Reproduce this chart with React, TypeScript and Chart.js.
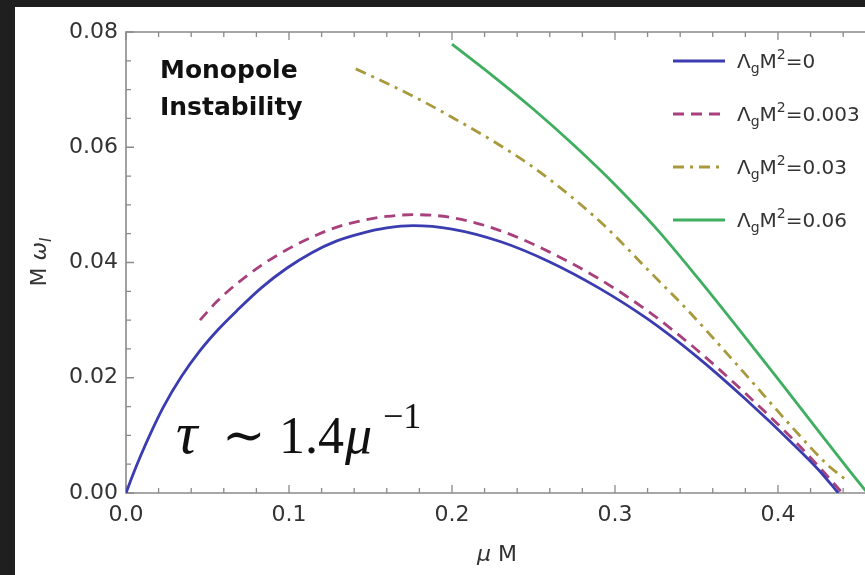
import { useEffect, useRef } from "react";
import { Chart, registerables } from "chart.js";

Chart.register(...registerables);

// ---------- data ----------
const LAMBDA_VALUES = ["0", "0.003", "0.03", "0.06"];
const X_TICKS = [0, 0.1, 0.2, 0.3, 0.4];
const Y_TICKS = [0, 0.02, 0.04, 0.06, 0.08];

const BLUE_X = [0, 0.004, 0.0086, 0.015, 0.0229, 0.034, 0.0454, 0.057, 0.0679, 0.083, 0.0986, 0.114, 0.129, 0.145, 0.16, 0.176, 0.2, 0.23, 0.26, 0.29, 0.32, 0.35, 0.38, 0.41, 0.425, 0.437];
const BLUE_Y = [0, 0.003, 0.0062, 0.0103, 0.0149, 0.0202, 0.0247, 0.0285, 0.0316, 0.0356, 0.039, 0.0417, 0.0437, 0.0451, 0.046, 0.0464, 0.0458, 0.0436, 0.0401, 0.0356, 0.0302, 0.0237, 0.0163, 0.0083, 0.004, 0];

const MAGENTA_X = [0.0454, 0.056, 0.0679, 0.083, 0.0986, 0.114, 0.129, 0.145, 0.16, 0.176, 0.2, 0.23, 0.26, 0.29, 0.32, 0.35, 0.38, 0.41, 0.425, 0.4385];
const MAGENTA_Y = [0.03, 0.0333, 0.0363, 0.0395, 0.0422, 0.0444, 0.0461, 0.0473, 0.048, 0.0483, 0.0478, 0.0455, 0.0418, 0.0372, 0.0316, 0.0249, 0.0173, 0.0091, 0.0046, 0.0003];

const OLIVE_X = [0.141, 0.16, 0.18, 0.2, 0.225, 0.25, 0.275, 0.295, 0.32, 0.345, 0.37, 0.39, 0.41, 0.43, 0.442];
const OLIVE_Y = [0.0736, 0.0711, 0.0683, 0.0652, 0.0611, 0.0565, 0.051, 0.046, 0.0388, 0.0316, 0.0238, 0.0174, 0.011, 0.005, 0.0022];

const GREEN_X = [0.2, 0.225, 0.25, 0.275, 0.3, 0.325, 0.35, 0.375, 0.4, 0.425, 0.45, 0.455];
const GREEN_Y = [0.0779, 0.0724, 0.0666, 0.0603, 0.0535, 0.046, 0.0376, 0.0288, 0.0198, 0.0107, 0.0017, 0];

const COLORS = ["#3a3cb0", "#a8407c", "#a89a3c", "#3fae5f"];
const DASHES: number[][] = [[], [11, 7], [11, 6, 3, 6], []];

const pts = (xs: number[], ys: number[]) => xs.map((x, i) => ({ x, y: ys[i] }));

const SANS = "'DejaVu Sans', 'Liberation Sans', sans-serif";
const SERIF = "'Liberation Serif', 'DejaVu Serif', serif";

type Run = { t: string; f: string; dy?: number };
function runsWidth(ctx: CanvasRenderingContext2D, runs: Run[]) {
  let w = 0;
  for (const r of runs) {
    ctx.font = r.f;
    w += ctx.measureText(r.t).width;
  }
  return w;
}
function drawRuns(ctx: CanvasRenderingContext2D, x: number, y: number, runs: Run[]) {
  let cx = x;
  for (const r of runs) {
    ctx.font = r.f;
    ctx.fillText(r.t, cx, y + (r.dy || 0));
    cx += ctx.measureText(r.t).width;
  }
  return cx;
}

const framePlugin = {
  id: "frame",
  beforeDatasetsDraw(chart: any) {
    const { ctx, chartArea: a, scales } = chart;
    const x = scales.x, y = scales.y;
    ctx.save();
    ctx.strokeStyle = "#8a8a8a";
    ctx.lineWidth = 1.6;
    ctx.beginPath();
    ctx.moveTo(a.right, a.top);
    ctx.lineTo(a.left, a.top);
    ctx.lineTo(a.left, a.bottom);
    ctx.lineTo(a.right, a.bottom);
    ctx.stroke();
    ctx.lineWidth = 1.3;
    ctx.beginPath();
    for (let i = 0; i <= 23; i++) {
      const v = i * 0.02;
      if (v > x.max) break;
      const px = x.getPixelForValue(v);
      const len = i % 5 === 0 ? 8 : 5;
      ctx.moveTo(px, a.bottom);
      ctx.lineTo(px, a.bottom - len);
      ctx.moveTo(px, a.top);
      ctx.lineTo(px, a.top + len);
    }
    for (let i = 0; i <= 16; i++) {
      const py = y.getPixelForValue(i * 0.005);
      const len = i % 4 === 0 ? 8 : 5;
      ctx.moveTo(a.left, py);
      ctx.lineTo(a.left + len, py);
    }
    ctx.stroke();
    ctx.restore();
  },
  afterDraw(chart: any) {
    const { ctx } = chart;
    ctx.save();
    ctx.textBaseline = "alphabetic";
    ctx.textAlign = "left";

    // annotation: Monopole Instability
    ctx.fillStyle = "#111";
    ctx.font = `bold 25px ${SANS}`;
    ctx.fillText("Monopole", 145, 71);
    ctx.fillText("Instability", 145, 108);

    // tau formula
    ctx.fillStyle = "#111";
    ctx.font = `italic 60px ${SERIF}`;
    ctx.fillText("τ", 161, 446);
    ctx.font = `52px ${SERIF}`;
    ctx.fillText("∼", 207, 446);
    ctx.fillText("1.4", 264, 446);
    ctx.font = `italic 54px ${SERIF}`;
    ctx.fillText("μ", 330, 446);
    ctx.font = `36px ${SERIF}`;
    ctx.fillText("−1", 368, 421);

    // axis titles
    ctx.fillStyle = "#333";
    const xt: Run[] = [
      { t: "μ", f: `italic 22px ${SANS}` },
      { t: " M", f: `22px ${SANS}` },
    ];
    const xw = runsWidth(ctx, xt);
    drawRuns(ctx, 482 - xw / 2, 554, xt);

    const yt: Run[] = [
      { t: "M ", f: `22px ${SANS}` },
      { t: "ω", f: `italic 22px ${SANS}` },
      { t: "I", f: `italic 15px ${SANS}`, dy: 5 },
    ];
    const yw = runsWidth(ctx, yt);
    ctx.save();
    ctx.translate(31, 255);
    ctx.rotate(-Math.PI / 2);
    drawRuns(ctx, -yw / 2, 0, yt);
    ctx.restore();

    // legend
    chart.data.datasets.forEach((ds: any, i: number) => {
      const rowY = 54 + i * 53;
      ctx.save();
      ctx.strokeStyle = ds.borderColor;
      ctx.lineWidth = ds.borderWidth;
      ctx.setLineDash(ds.borderDash || []);
      ctx.beginPath();
      ctx.moveTo(658, rowY);
      ctx.lineTo(710, rowY);
      ctx.stroke();
      ctx.restore();
      ctx.fillStyle = "#333";
      drawRuns(ctx, 722, rowY + 7, [
        { t: "Λ", f: `20px ${SANS}` },
        { t: "g", f: `14px ${SANS}`, dy: 5 },
        { t: "M", f: `20px ${SANS}` },
        { t: "2", f: `14px ${SANS}`, dy: -9 },
        { t: "=" + LAMBDA_VALUES[i], f: `20px ${SANS}` },
      ]);
    });
    ctx.restore();
  },
};

export default function App() {
  const ref = useRef<HTMLCanvasElement>(null);
  useEffect(() => {
    document.body.style.margin = "0";
    document.body.style.background = "#1f1f1f";
    const series = [
      pts(BLUE_X, BLUE_Y),
      pts(MAGENTA_X, MAGENTA_Y),
      pts(OLIVE_X, OLIVE_Y),
      pts(GREEN_X, GREEN_Y),
    ];
    const chart = new Chart(ref.current!, {
      type: "scatter",
      data: {
        datasets: series.map((data, i) => ({
          label: "ΛgM²=" + LAMBDA_VALUES[i],
          data,
          showLine: true,
          borderColor: COLORS[i],
          backgroundColor: COLORS[i],
          borderWidth: 2.8,
          borderDash: DASHES[i],
          pointRadius: 0,
          cubicInterpolationMode: "monotone",
          fill: false,
        })),
      },
      options: {
        animation: false,
        responsive: false,
        devicePixelRatio: 1,
        layout: { padding: { top: 25, right: 0, left: 0, bottom: 0 } },
        plugins: { legend: { display: false }, tooltip: { enabled: false } },
        scales: {
          x: {
            type: "linear",
            min: 0,
            max: 0.4534,
            grid: { display: false, drawTicks: false },
            border: { display: false },
            afterBuildTicks: (s: any) => {
              s.ticks = X_TICKS.map((v) => ({ value: v }));
            },
            afterFit: (s: any) => {
              s.height = 82;
            },
            ticks: {
              padding: 9,
              color: "#333",
              font: { family: SANS, size: 22 },
              callback: (v: any) => Number(v).toFixed(1),
              maxRotation: 0,
              autoSkip: false,
            },
          },
          y: {
            type: "linear",
            min: 0,
            max: 0.08,
            grid: { display: false, drawTicks: false },
            border: { display: false },
            afterBuildTicks: (s: any) => {
              s.ticks = Y_TICKS.map((v) => ({ value: v }));
            },
            afterFit: (s: any) => {
              s.width = 111;
            },
            ticks: {
              padding: 8,
              color: "#333",
              font: { family: SANS, size: 22 },
              callback: (v: any) => Number(v).toFixed(2),
              autoSkip: false,
            },
          },
        },
      },
      plugins: [framePlugin],
    });
    return () => chart.destroy();
  }, []);
  return (
    <div style={{ position: "relative", width: 865, height: 575, background: "#1f1f1f", overflow: "hidden" }}>
      <div style={{ position: "absolute", left: 15, top: 7, width: 850, height: 568, background: "#ffffff" }}>
        <canvas ref={ref} width={850} height={568} style={{ display: "block", width: 850, height: 568 }} />
      </div>
    </div>
  );
}
